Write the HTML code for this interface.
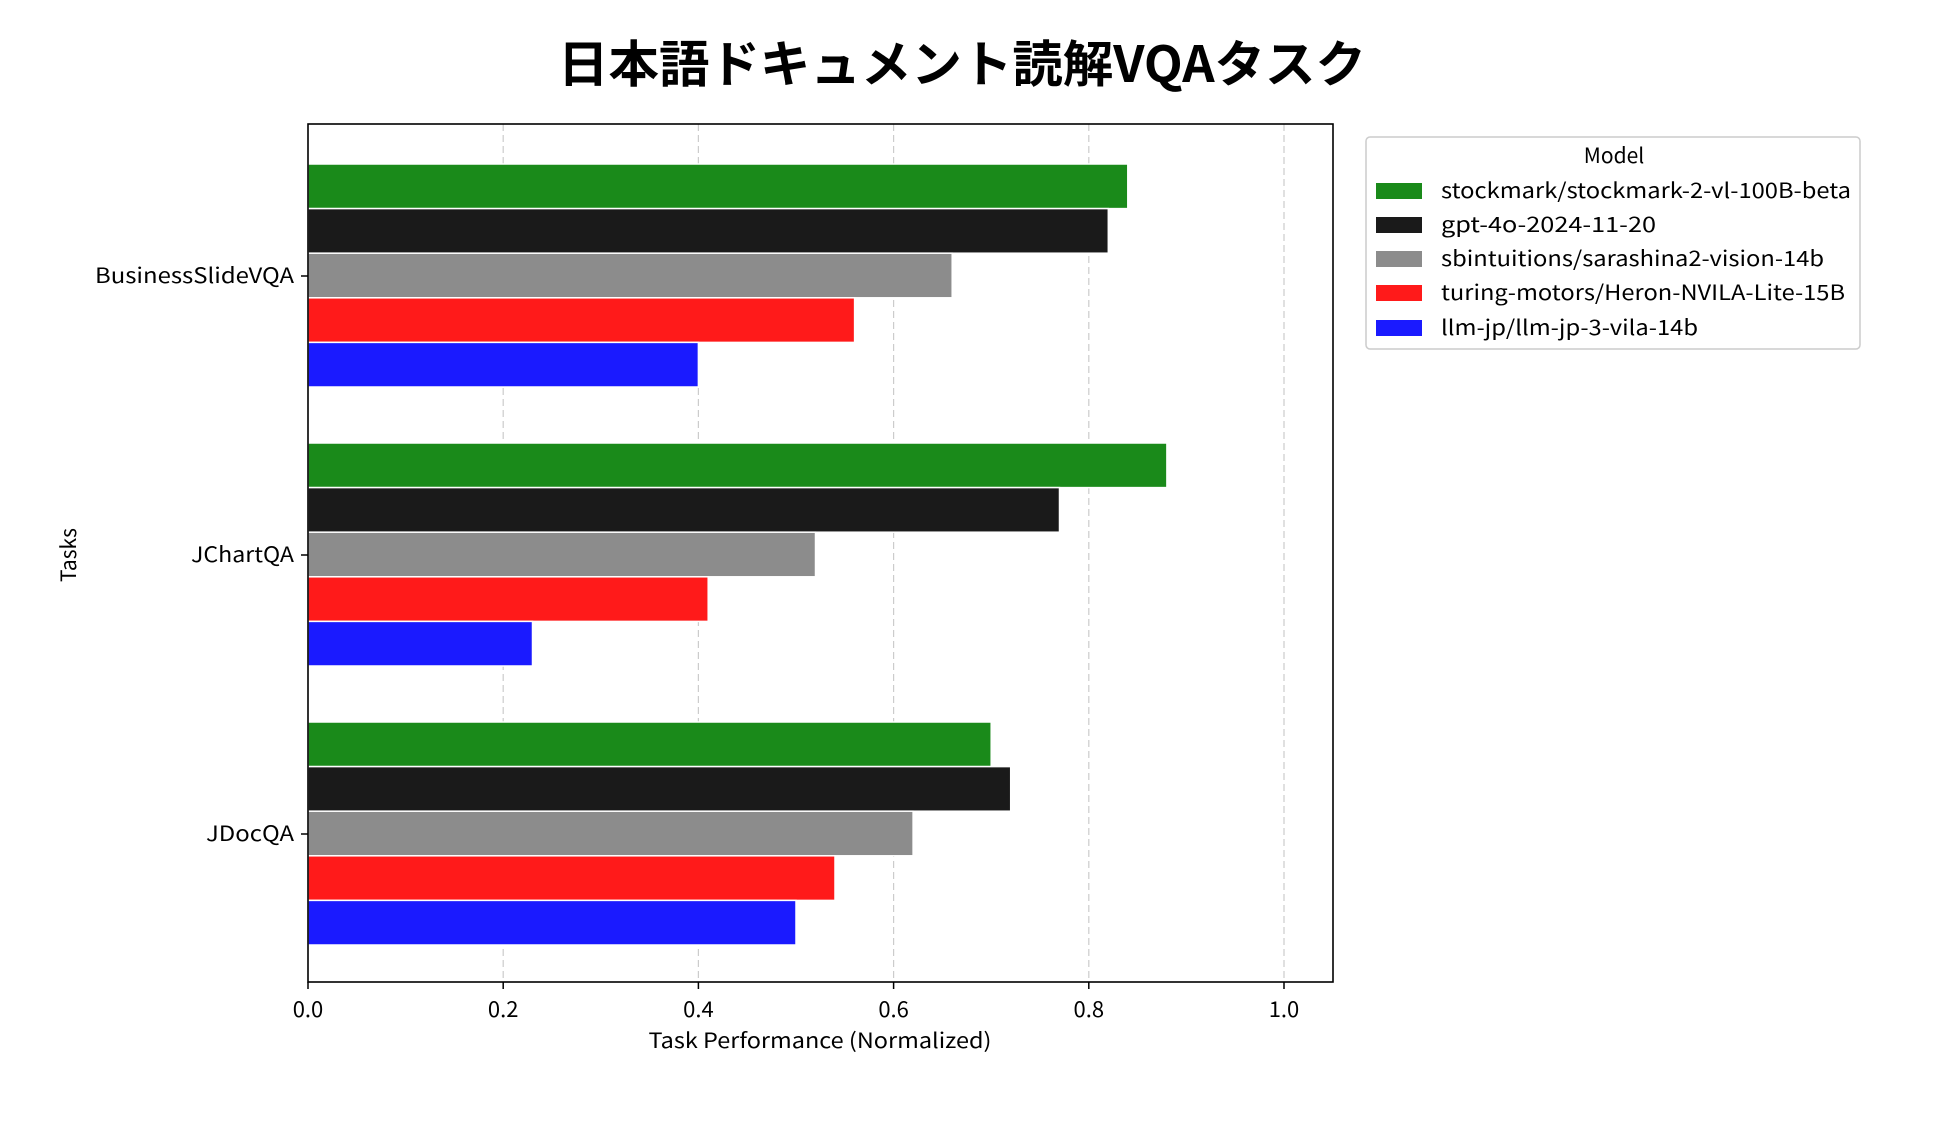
<!DOCTYPE html>
<html><head><meta charset="utf-8"><style>body{margin:0;background:#fff}svg{display:block}text{font-family:"Noto Sans CJK JP",sans-serif;fill:#000}</style></head><body>
<svg width="1950" height="1139" viewBox="0 0 1950 1139" xmlns="http://www.w3.org/2000/svg">
<text x="962" y="82" font-size="50" font-weight="bold" text-anchor="middle" textLength="808" lengthAdjust="spacingAndGlyphs">日本語ドキュメント読解VQAタスク</text>
<g stroke="#ccc" stroke-dasharray="7,4" stroke-width="1.2">
<line x1="503.2" y1="124" x2="503.2" y2="982"/><line x1="698.4" y1="124" x2="698.4" y2="982"/><line x1="893.6" y1="124" x2="893.6" y2="982"/><line x1="1088.8" y1="124" x2="1088.8" y2="982"/><line x1="1284" y1="124" x2="1284" y2="982"/>
</g>
<g stroke="#fff" stroke-width="1.5">
<rect x="308" y="164" width="819.8" height="44.6" fill="#1a8a1a"/>
<rect x="308" y="208.6" width="800.3" height="44.6" fill="#1a1a1a"/>
<rect x="308" y="253.2" width="644.2" height="44.6" fill="#8c8c8c"/>
<rect x="308" y="297.8" width="546.6" height="44.6" fill="#ff1a1a"/>
<rect x="308" y="342.4" width="390.4" height="44.6" fill="#1a1aff"/>
<rect x="308" y="443" width="858.9" height="44.6" fill="#1a8a1a"/>
<rect x="308" y="487.6" width="751.5" height="44.6" fill="#1a1a1a"/>
<rect x="308" y="532.2" width="507.5" height="44.6" fill="#8c8c8c"/>
<rect x="308" y="576.8" width="400.2" height="44.6" fill="#ff1a1a"/>
<rect x="308" y="621.4" width="224.5" height="44.6" fill="#1a1aff"/>
<rect x="308" y="722" width="683.2" height="44.6" fill="#1a8a1a"/>
<rect x="308" y="766.6" width="702.7" height="44.6" fill="#1a1a1a"/>
<rect x="308" y="811.2" width="605.1" height="44.6" fill="#8c8c8c"/>
<rect x="308" y="855.8" width="527.0" height="44.6" fill="#ff1a1a"/>
<rect x="308" y="900.4" width="488.0" height="44.6" fill="#1a1aff"/>
</g>
<rect x="308" y="124" width="1025" height="858" fill="none" stroke="#000" stroke-width="1.6"/>
<g stroke="#000" stroke-width="1.5">
<line x1="308" y1="982" x2="308" y2="989"/><line x1="503.2" y1="982" x2="503.2" y2="989"/><line x1="698.4" y1="982" x2="698.4" y2="989"/><line x1="893.6" y1="982" x2="893.6" y2="989"/><line x1="1088.8" y1="982" x2="1088.8" y2="989"/><line x1="1284" y1="982" x2="1284" y2="989"/>
<line x1="301" y1="276" x2="308" y2="276"/><line x1="301" y1="555" x2="308" y2="555"/><line x1="301" y1="834" x2="308" y2="834"/>
</g>
<g font-size="22" text-anchor="middle">
<text x="308" y="1017">0.0</text><text x="503.2" y="1017">0.2</text><text x="698.4" y="1017">0.4</text><text x="893.6" y="1017">0.6</text><text x="1088.8" y="1017">0.8</text><text x="1284" y="1017">1.0</text>
</g>
<g font-size="21" text-anchor="end">
<text x="294" y="283" textLength="199" lengthAdjust="spacingAndGlyphs">BusinessSlideVQA</text><text x="294" y="562" textLength="103" lengthAdjust="spacingAndGlyphs">JChartQA</text><text x="294" y="841" textLength="88" lengthAdjust="spacingAndGlyphs">JDocQA</text>
</g>
<text x="820" y="1048" font-size="21" text-anchor="middle" textLength="343" lengthAdjust="spacingAndGlyphs">Task Performance (Normalized)</text>
<text transform="translate(76,555) rotate(-90)" font-size="21" text-anchor="middle">Tasks</text>
<rect x="1366" y="137" width="494" height="212" rx="4" fill="#fff" stroke="#ccc" stroke-width="1.5"/>
<text x="1614" y="163" font-size="21" text-anchor="middle">Model</text>
<rect x="1376" y="183" width="46" height="16" fill="#1a8a1a"/>
<rect x="1376" y="217" width="46" height="16" fill="#1a1a1a"/>
<rect x="1376" y="251" width="46" height="16" fill="#8c8c8c"/>
<rect x="1376" y="285" width="46" height="16" fill="#ff1a1a"/>
<rect x="1376" y="320" width="46" height="16" fill="#1a1aff"/>
<g font-size="21">
<text x="1441" y="198" textLength="410" lengthAdjust="spacingAndGlyphs">stockmark/stockmark-2-vl-100B-beta</text>
<text x="1441" y="232" textLength="215" lengthAdjust="spacingAndGlyphs">gpt-4o-2024-11-20</text>
<text x="1441" y="266" textLength="383" lengthAdjust="spacingAndGlyphs">sbintuitions/sarashina2-vision-14b</text>
<text x="1441" y="300" textLength="404" lengthAdjust="spacingAndGlyphs">turing-motors/Heron-NVILA-Lite-15B</text>
<text x="1441" y="335" textLength="257" lengthAdjust="spacingAndGlyphs">llm-jp/llm-jp-3-vila-14b</text>
</g>
</svg>
</body></html>
